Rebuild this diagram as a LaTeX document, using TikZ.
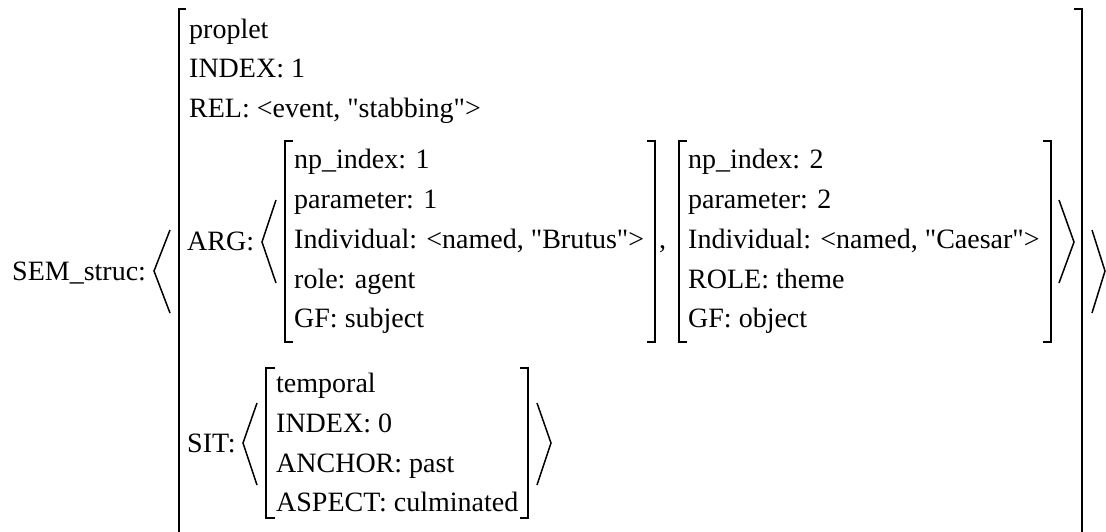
\documentclass[tikz,border=0pt]{standalone}
\usepackage{fontspec}
\setmainfont{Liberation Serif}[Ligatures=TeXOff]
\tikzset{
  txt/.style={anchor=base west, inner sep=0pt, font=\fontsize{28}{33}\selectfont},
  brk/.style={line width=2pt, line cap=butt},
  ang/.style={line width=1.5pt, line join=miter}
}
\begin{document}
\begin{tikzpicture}[x=1pt,y=-1pt]
\useasboundingbox (0,0) rectangle (1106,531);
% labels
\node[txt] (sem) at (12,280) {SEM\_struc:};
\node[txt] (prop) at (189,38) {proplet};
\node[txt] (idx1) at (189,77) {INDEX: 1};
\node[txt] (rel) at (189,117) {REL: <event, "stabbing">};
\node[txt] (arg) at (187,250) {ARG:};
% first argument
\node[txt] (np1) at (294,168) {np\_index: 1};
\node[txt] (par1) at (294,208) {parameter: 1};
\node[txt] (ind1) at (294,248) {Individual: <named, "Brutus">};
\node[txt] (role1) at (294,288) {role: agent};
\node[txt] (gf1) at (294,327) {GF: subject};
\node[txt] (comma) at (659,248) {,};
% second argument
\node[txt] (np2) at (688,168) {np\_index: 2};
\node[txt] (par2) at (688,208) {parameter: 2};
\node[txt] (ind2) at (688,248) {Individual: <named, "Caesar">};
\node[txt] (role2) at (688,288) {ROLE: theme};
\node[txt] (gf2) at (688,327) {GF: object};
% situation
\node[txt] (sit) at (187,452) {SIT:};
\node[txt] (temp) at (276,392) {temporal};
\node[txt] (idx0) at (276,432) {INDEX: 0};
\node[txt] (anch) at (276,472) {ANCHOR: past};
\node[txt] (asp) at (276,511) {ASPECT: culminated};
% outer angle brackets
\draw[ang] (170,230) -- (154,271) -- (170,313);
\draw[ang] (1092,230) -- (1105,271) -- (1092,313);
% outer square bracket
\draw[brk] (186,9) -- (179,9) -- (179,535);
\draw[brk] (1074,9) -- (1082,9) -- (1082,535);
% ARG angles
\draw[ang] (276,200) -- (262,242) -- (276,283);
\draw[ang] (1059,200) -- (1074,242) -- (1059,283);
% Brutus bracket
\draw[brk] (293,141) -- (285,141) -- (285,342) -- (293,342);
\draw[brk] (647,141) -- (655,141) -- (655,342) -- (647,342);
% Caesar bracket
\draw[brk] (687,141) -- (679,141) -- (679,342) -- (687,342);
\draw[brk] (1043,141) -- (1051,141) -- (1051,342) -- (1043,342);
% SIT angles
\draw[ang] (257,403) -- (243,443) -- (257,485);
\draw[ang] (537,403) -- (551,443) -- (537,485);
% SIT bracket
\draw[brk] (275,368) -- (266,368) -- (266,518) -- (275,518);
\draw[brk] (520,368) -- (528,368) -- (528,518) -- (520,518);
\end{tikzpicture}
\end{document}
